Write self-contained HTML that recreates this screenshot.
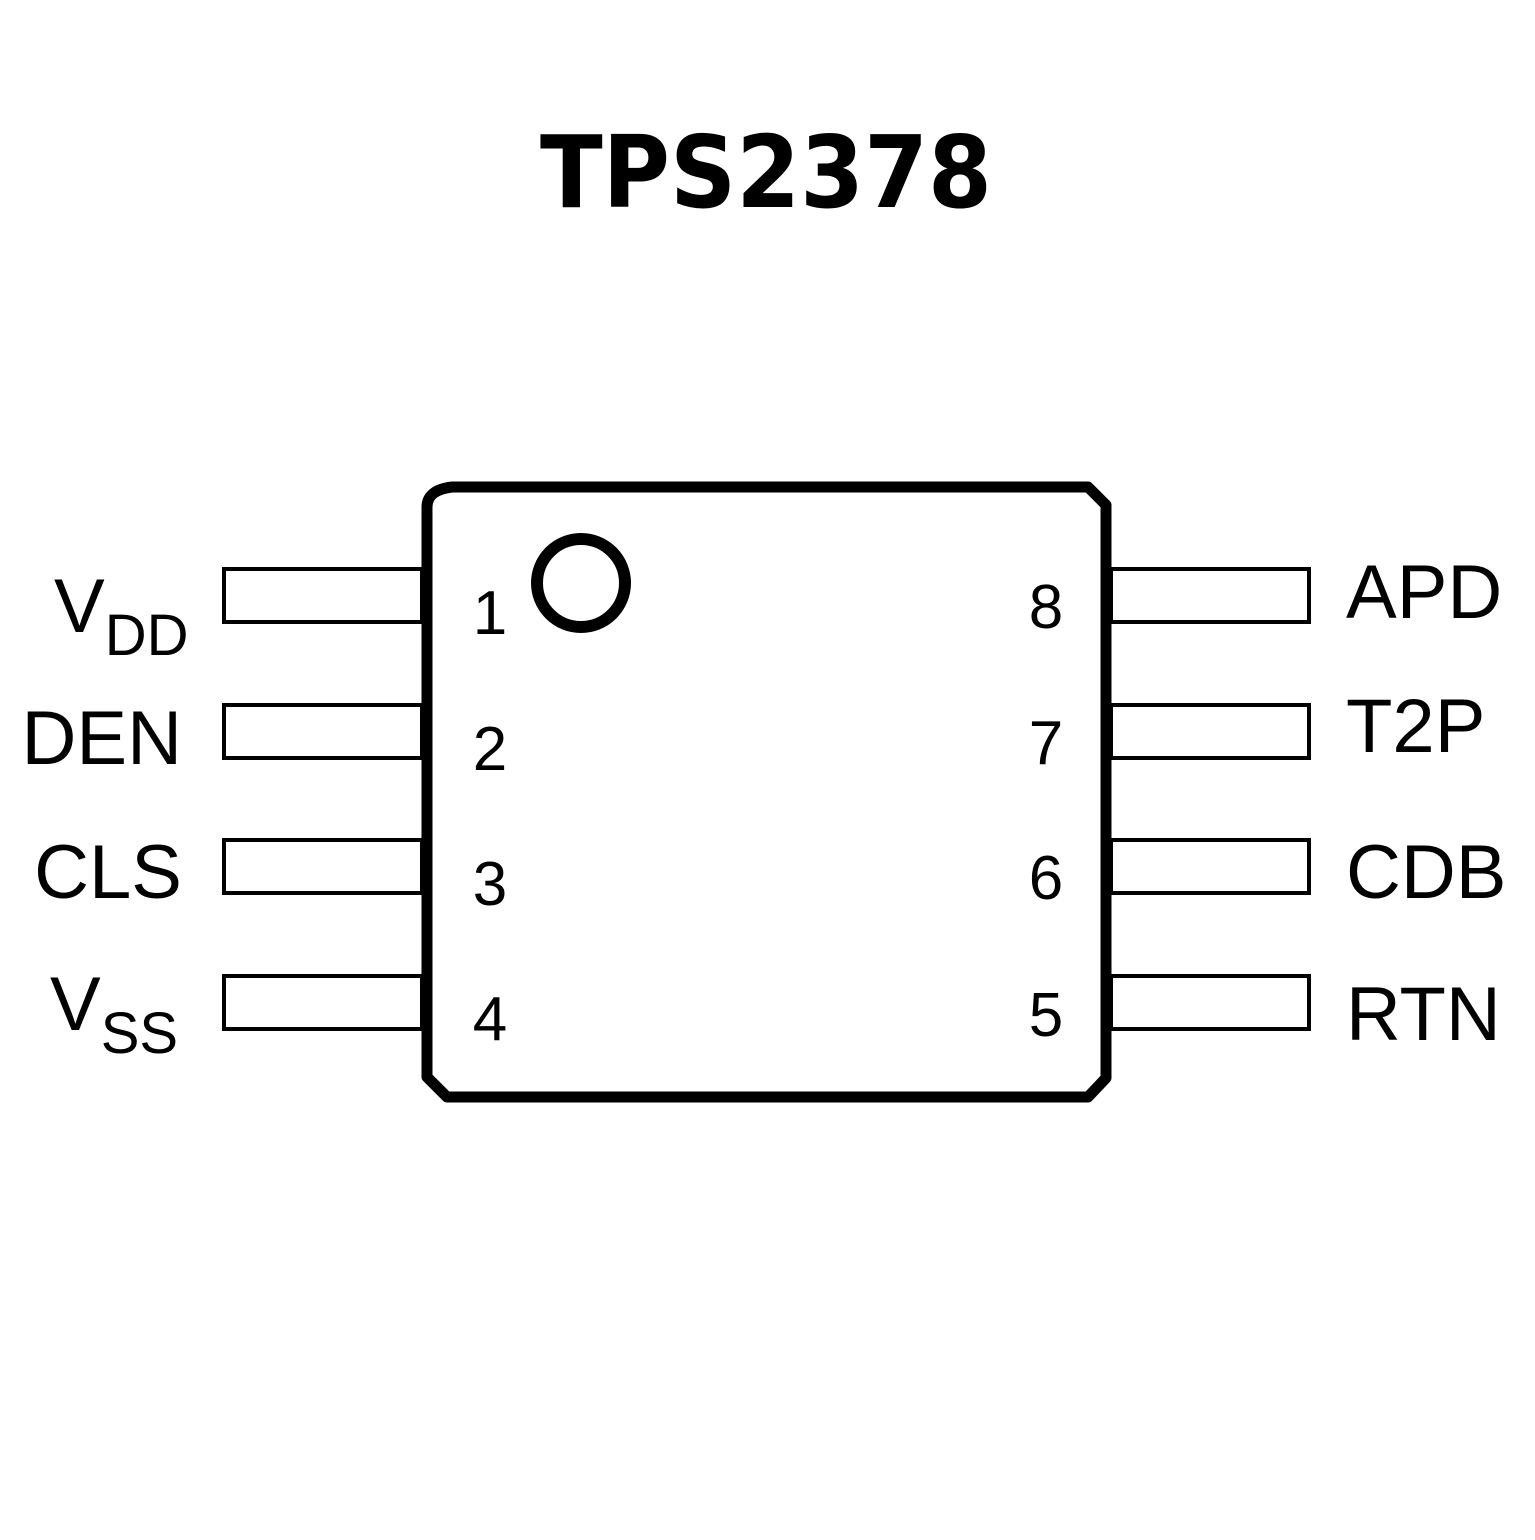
<!DOCTYPE html>
<html><head><style>html,body{margin:0;padding:0;background:#fff}</style></head><body>
<svg width="1535" height="1535" viewBox="0 0 1535 1535" xmlns="http://www.w3.org/2000/svg">
<rect width="1535" height="1535" fill="#fff"/>
<text x="766" y="207" text-anchor="middle" font-family="DejaVu Sans, sans-serif" font-weight="bold" font-size="100" textLength="452" lengthAdjust="spacingAndGlyphs">TPS2378</text>
<g fill="none" stroke="#000" stroke-width="4">
<rect x="224" y="569" width="198" height="53"/>
<rect x="224" y="705" width="198" height="53"/>
<rect x="224" y="840" width="198" height="53"/>
<rect x="224" y="976" width="198" height="53"/>
<rect x="1111" y="569" width="198" height="53"/>
<rect x="1111" y="705" width="198" height="53"/>
<rect x="1111" y="840" width="198" height="53"/>
<rect x="1111" y="976" width="198" height="53"/>
</g>
<path d="M452 487 H1088 L1106 505 V1078 L1088 1097 H447 L427 1077 V507 Q427 490 452 487 Z" fill="#fff" stroke="#000" stroke-width="11" stroke-linejoin="round"/>
<circle cx="581" cy="583" r="44" fill="none" stroke="#000" stroke-width="12"/>
<g font-family="Liberation Sans, sans-serif" font-size="62" text-anchor="middle">
<text x="490" y="634">1</text><text x="490" y="770">2</text><text x="490" y="905">3</text><text x="490" y="1040">4</text>
<text x="1046" y="628">8</text><text x="1046" y="764">7</text><text x="1046" y="899">6</text><text x="1046" y="1036">5</text>
</g>
<g font-family="Liberation Sans, sans-serif" font-size="76">
<text x="1346" y="618">APD</text><text x="1346" y="752">T2P</text><text x="1346" y="898">CDB</text><text x="1346" y="1040">RTN</text>
<text x="182" y="764" text-anchor="end">DEN</text><text x="182" y="898" text-anchor="end">CLS</text>
<text x="54" y="632">V<tspan font-size="58" dy="23">DD</tspan></text>
<text x="50" y="1030">V<tspan font-size="58" dy="23">SS</tspan></text>
</g>
</svg>
</body></html>
